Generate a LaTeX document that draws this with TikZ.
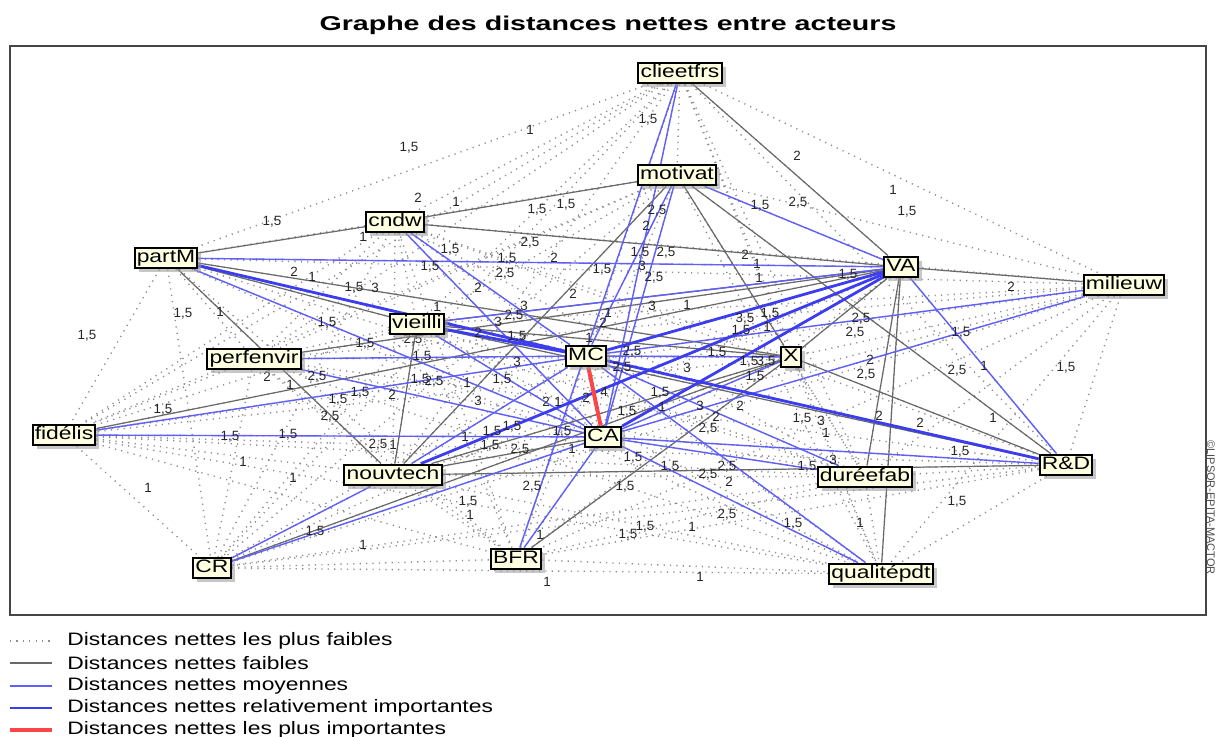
\documentclass[tikz,border=0pt]{standalone}
\usepackage{fontspec}
\setmainfont[FakeStretch=1.27]{Liberation Sans}
\newfontfamily\numfont{Liberation Sans}
\newfontfamily\titlefont[FakeStretch=1.43]{Liberation Sans}
\usetikzlibrary{shadows}
\pgfdeclarelayer{links}
\pgfsetlayers{links,main}
\definecolor{nodefill}{RGB}{255,255,225}
\definecolor{linkblue}{RGB}{95,95,250}
\definecolor{linkthick}{RGB}{60,60,240}
\definecolor{linkgray}{RGB}{105,105,105}
\definecolor{linkdot}{RGB}{140,140,140}
\definecolor{linkred}{RGB}{250,70,70}
\definecolor{framegray}{RGB}{70,70,70}

\begin{document}
\begin{tikzpicture}[x=0.5pt,y=-0.5pt,
  actor/.style={draw=black, line width=1pt, fill=nodefill, inner xsep=1.1pt, inner ysep=0.7pt,
    font=\fontsize{9}{9}\selectfont, text height=7pt, text depth=2pt,
    drop shadow={shadow xshift=2pt, shadow yshift=-2pt, fill=black!40, opacity=0.55}},
  dotlink/.style={linkdot, line width=0.7pt, dash pattern=on 0.6pt off 2.6pt},
  weaklink/.style={linkgray, line width=0.6pt},
  midlink/.style={linkblue, line width=0.7pt},
  stronglink/.style={linkthick, line width=1.4pt},
  toplink/.style={linkred, line width=2pt},
  lbl/.style={font=\numfont\fontsize{6.7}{6.7}\selectfont, text=black!85, inner sep=0pt},
  legtext/.style={anchor=west, font=\fontsize{9}{9}\selectfont, inner sep=0pt}
]
\useasboundingbox (0,0) rectangle (1216,737);

% title and frame
\node[font=\titlefont\bfseries\fontsize{10}{10}\selectfont] (title) at (608,25) {Graphe des distances nettes entre acteurs};
\draw[framegray, line width=1pt] (10,46) rectangle (1206,615);
\node[font=\numfont\fontsize{5.5}{5.5}\selectfont, rotate=-90, anchor=west, text=black!70, inner sep=0pt] (copy) at (1211,440) {©LIPSOR-EPITA-MACTOR};

% actors
\node[actor] (cl) at (680,73)  {clieetfrs};
\node[actor] (mo) at (677,175) {motivat};
\node[actor] (cn) at (395,222) {cndw};
\node[actor] (pm) at (166,258) {partM};
\node[actor] (va) at (901,267) {VA};
\node[actor] (mi) at (1124,285) {milieuw};
\node[actor] (vi) at (417,324) {vieilli};
\node[actor] (pe) at (254,359) {perfenvir};
\node[actor] (mc) at (586,356) {MC};
\node[actor] (x)  at (791,357) {X};
\node[actor] (fi) at (64,435)  {fidélis};
\node[actor] (ca) at (603,437) {CA};
\node[actor] (nt) at (393,475) {nouvtech};
\node[actor] (du) at (865,477) {duréefab};
\node[actor] (rd) at (1066,465) {R\&D};
\node[actor] (cr) at (212,568) {CR};
\node[actor] (bf) at (516,559) {BFR};
\node[actor] (qu) at (881,574) {qualitépdt};

\begin{pgfonlayer}{links}
% weakest distances: every pair
\foreach \a [count=\i] in {cl,mo,cn,pm,va,mi,vi,pe,mc,x,fi,ca,nt,du,rd,cr,bf,qu}{
  \foreach \b [count=\j] in {cl,mo,cn,pm,va,mi,vi,pe,mc,x,fi,ca,nt,du,rd,cr,bf,qu}{
    \ifnum\j>\i \draw[dotlink] (\a) -- (\b);\fi}}
% weak distances
\foreach \a/\b in {cl/va, mo/cn, mo/x, mo/rd, mo/nt, cn/pm, cn/va, pm/nt, pm/x, pm/vi,
  va/mi, va/du, va/qu, va/x, fi/va, vi/nt, pe/va, vi/x, vi/rd, x/rd, nt/rd, bf/x, cr/x,
  nt/ca, nt/x, vi/va}
  \draw[weaklink] (\a) -- (\b);
% medium distances
\foreach \a/\b in {cl/bf, cl/ca, mo/va, mo/mc, mo/ca, cn/mc, cn/ca, pm/va, pm/ca, va/vi,
  va/rd, mi/mc, mi/ca, x/mc, x/ca, fi/mc, fi/ca, pe/mc, pe/ca, vi/ca, nt/mc, nt/cr,
  cr/ca, bf/ca, ca/rd, ca/du, mc/du, ca/qu, mc/qu}
  \draw[midlink] (\a) -- (\b);
% relatively strong distances
\foreach \a/\b in {va/mc, va/ca, mc/rd, vi/mc, pm/mc, nt/va}
  \draw[stronglink] (\a) -- (\b);
% strongest distance
\draw[toplink] (mc) -- (ca);

% distance values
\foreach \px/\py/\t in {
 409/148/{1,5}, 530/130/1, 648/120/{1,5}, 797/156/2, 893/190/1, 907/212/{1,5},
 272/222/{1,5}, 418/198/2, 456/202/1, 363/237/1, 537/210/{1,5}, 566/205/{1,5},
 657/211/{2,5}, 646/226/2, 760/206/{1,5}, 798/203/{2,5}, 530/243/{2,5}, 450/250/{1,5},
 430/267/{1,5}, 507/259/{1,5}, 505/274/{2,5}, 554/258/2, 602/270/{1,5}, 640/253/{1,5},
 666/253/{2,5}, 642/266/3, 654/278/{2,5}, 745/255/2, 757/264/1, 759/278/1, 848/275/{1,5},
 1011/287/2, 294/272/2, 312/277/1, 354/288/{1,5}, 375/288/3, 478/288/2, 573/294/2,
 183/314/{1,5}, 220/312/1, 87/336/{1,5}, 327/323/{1,5}, 437/307/1, 498/322/3,
 514/316/{2,5}, 524/306/3, 603/323/2, 608/313/1, 589/338/1, 652/306/3, 687/305/1,
 745/319/{3,5}, 770/314/{1,5}, 741/331/{1,5}, 767/327/1, 478/333/2, 517/337/{1,5},
 413/340/{2,5}, 422/357/{1,5}, 420/380/{1,5}, 434/382/{2,5}, 467/383/1, 502/380/{1,5},
 517/362/3, 632/352/{2,5}, 622/368/{2,5}, 717/353/{1,5}, 749/362/{1,5}, 766/362/{3,5},
 755/377/{1,5}, 687/368/3, 861/319/{2,5}, 855/333/{2,5}, 870/360/2, 866/375/{2,5},
 961/333/{1,5}, 957/371/{2,5}, 984/366/1, 1066/368/{1,5}, 993/418/1, 879/416/2,
 920/423/2, 802/419/{1,5}, 821/421/3, 826/433/1, 960/452/{1,5}, 833/460/3,
 807/467/{1,5}, 957/502/{1,5}, 860/523/1, 793/524/{1,5}, 727/515/{2,5}, 692/527/1,
 645/527/{1,5}, 628/535/{1,5}, 700/577/1, 547/582/1, 708/475/{2,5}, 727/467/{2,5},
 729/482/2, 670/467/{1,5}, 633/458/{1,5}, 625/487/{1,5}, 708/429/{2,5}, 716/417/2,
 700/406/3, 740/406/2, 660/393/{1,5}, 662/407/1, 627/412/{1,5}, 604/392/4, 586/398/2,
 546/402/2, 558/402/1, 562/432/{1,5}, 572/449/1, 512/427/{1,5}, 492/432/{1,5},
 490/446/{1,5}, 465/437/1, 520/450/{2,5}, 532/487/{2,5}, 468/502/{1,5}, 470/515/1,
 478/401/3, 392/395/2, 338/400/{1,5}, 360/393/{1,5}, 330/417/{2,5}, 290/385/1,
 317/377/{2,5}, 365/344/{1,5}, 378/445/{2,5}, 393/445/1, 163/410/{1,5}, 230/437/{1,5},
 288/435/{1,5}, 243/462/1, 293/478/1, 148/488/1, 315/532/{1,5}, 363/545/1, 540/535/1,
 267/377/2}
  \node[lbl] at (\px,\py) {\t};
\end{pgfonlayer}

% legend
\coordinate (l1a) at (10,641); \coordinate (l1b) at (52,641);
\coordinate (l2a) at (10,663); \coordinate (l2b) at (52,663);
\coordinate (l3a) at (10,686); \coordinate (l3b) at (52,686);
\coordinate (l4a) at (10,708); \coordinate (l4b) at (52,708);
\coordinate (l5a) at (10,730); \coordinate (l5b) at (52,730);
\draw[dotlink] (l1a) -- (l1b);
\draw[weaklink] (l2a) -- (l2b);
\draw[midlink] (l3a) -- (l3b);
\draw[stronglink] (l4a) -- (l4b);
\draw[toplink] (l5a) -- (l5b);
\node[legtext] (t1) at (67,641) {Distances nettes les plus faibles};
\node[legtext] (t2) at (67,663) {Distances nettes faibles};
\node[legtext] (t3) at (67,686) {Distances nettes moyennes};
\node[legtext] (t4) at (67,708) {Distances nettes relativement importantes};
\node[legtext] (t5) at (67,730) {Distances nettes les plus importantes};
\end{tikzpicture}
\end{document}
